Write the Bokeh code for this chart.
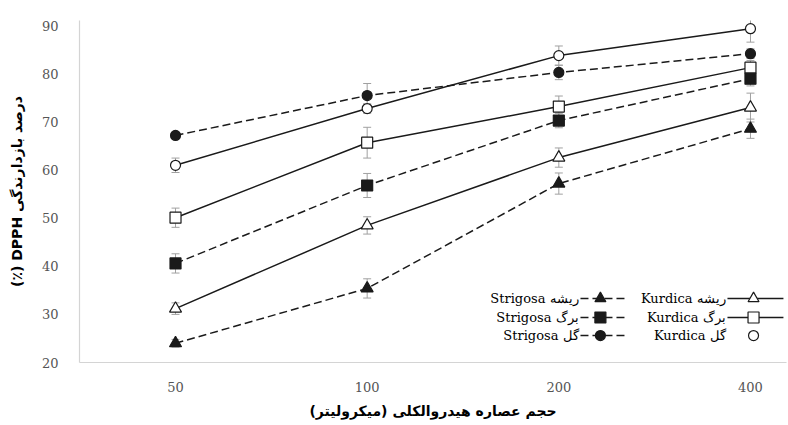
from bokeh.plotting import figure
from bokeh.models import FixedTicker, Whisker, ColumnDataSource, Range1d
from bokeh.core.properties import value
from bokeh.embed import file_html
from bokeh.resources import INLINE

# Extract volume (microlitres) and DPPH inhibition (%) for each species / organ
doses = ["50", "100", "200", "400"]
kurdica_root = [31.2, 48.5, 62.6, 73.0]
kurdica_leaf = [50.1, 65.7, 73.2, 81.3]
kurdica_flower = [61.0, 72.8, 83.8, 89.4]
strigosa_root = [24.0, 35.4, 57.2, 68.6]
strigosa_leaf = [40.6, 56.8, 70.3, 79.0]
strigosa_flower = [67.2, 75.5, 80.3, 84.2]

kurdica_root_err = [1.2, 1.8, 2.0, 3.0]
kurdica_leaf_err = [2.0, 3.2, 2.2, 1.5]
kurdica_flower_err = [1.5, 1.0, 2.0, 2.8]
strigosa_root_err = [0.8, 2.0, 2.2, 2.0]
strigosa_leaf_err = [2.0, 2.5, 1.5, 1.5]
strigosa_flower_err = [0.6, 2.5, 1.5, 1.0]

y_ticks = [20, 30, 40, 50, 60, 70, 80, 90]

x = list(range(len(doses)))
INK = "#1a1a1a"
SERIF = "DejaVu Serif"

p = figure(width=788, height=425, output_backend="svg", toolbar_location=None,
           x_range=Range1d(-0.501, 3.188), y_range=Range1d(20, 91.1),
           min_border_left=79, min_border_right=2, min_border_top=20,
           min_border_bottom=63)
p.outline_line_color = None
p.xgrid.visible = False
p.ygrid.visible = False
p.background_fill_color = "white"

for ax in (p.xaxis, p.yaxis):
    ax.axis_line_color = "#d4d4d4"
    ax.axis_line_width = 1.2
    ax.major_tick_line_color = None
    ax.minor_tick_line_color = None
    ax.major_label_text_font = SERIF
    ax.major_label_text_font_size = "13px"
    ax.major_label_text_color = "#555555"
    ax.axis_label_text_font = "DejaVu Sans"
    ax.axis_label_text_font_style = "bold"
    ax.axis_label_text_color = "#000000"

p.xaxis.ticker = FixedTicker(ticks=x)
p.xaxis.major_label_overrides = {i: d for i, d in enumerate(doses)}
p.xaxis.major_label_standoff = 13
p.xaxis.axis_label = "\u200fحجم عصاره هیدروالکلی (میکرولیتر)\u200f"
p.xaxis.axis_label_text_font_size = "14px"
p.xaxis.axis_label_standoff = 8

p.yaxis.ticker = FixedTicker(ticks=y_ticks)
p.yaxis.major_label_standoff = 15
p.yaxis.axis_label = "(٪) DPPH درصد بازدارندگی"
p.yaxis.axis_label_text_font_size = "14px"
p.yaxis.axis_label_standoff = 14

series = [
    (kurdica_root, kurdica_root_err, "triangle", "white", "solid", 12),
    (kurdica_leaf, kurdica_leaf_err, "square", "white", "solid", 11),
    (kurdica_flower, kurdica_flower_err, "circle", "white", "solid", 10),
    (strigosa_root, strigosa_root_err, "triangle", INK, "8 4", 12),
    (strigosa_leaf, strigosa_leaf_err, "square", INK, "8 4", 11),
    (strigosa_flower, strigosa_flower_err, "circle", INK, "8 4", 10),
]

# error bars underneath the lines and markers
for vals, errs, *_ in series:
    src = ColumnDataSource(dict(
        x=x,
        lo=[v - e for v, e in zip(vals, errs)],
        hi=[v + e for v, e in zip(vals, errs)]))
    w = Whisker(base="x", lower="lo", upper="hi", source=src,
                line_color="#a0a0a0", line_width=1, level="underlay")
    w.upper_head.size = 8
    w.lower_head.size = 8
    w.upper_head.line_color = "#a0a0a0"
    w.lower_head.line_color = "#a0a0a0"
    p.add_layout(w)

for vals, errs, marker, fill, dash, size in series:
    p.line(x, vals, line_color=INK, line_width=1.5, line_dash=dash)
for vals, errs, marker, fill, dash, size in series:
    p.scatter(x, vals, marker=marker, size=size, fill_color=fill,
              line_color=INK, line_width=1.2)

# legend, drawn right-to-left: label then sample glyph
organs = ["ریشه", "برگ", "گل"]
markers = ["triangle", "square", "circle"]
sizes = [11, 11, 10]
rows_y = [33.3, 29.36, 25.6]
columns = [
    ("Strigosa", INK, "8 4", 2.113, 2.358, 2.217),
    ("Kurdica", "white", "solid", 2.880, 3.172, 3.016),
]
for name, fill, dash, x0, x1, xm in columns:
    for organ, mk, sz, ry in zip(organs, markers, sizes, rows_y):
        if not (name == "Kurdica" and organ == "گل"):
            p.line([x0, x1], [ry, ry], line_color=INK, line_width=1.5,
                   line_dash=dash)
        p.scatter([xm], [ry], marker=mk, size=sz, fill_color=fill,
                  line_color=INK, line_width=1.2)
        p.text([x0 - 0.01], [ry], text=[f"{name} {organ}"],
               text_font=value(SERIF), text_font_size="13px",
               text_color="#000000", text_align="right",
               text_baseline="middle")

open("out.html", "w").write(file_html(p, INLINE))
